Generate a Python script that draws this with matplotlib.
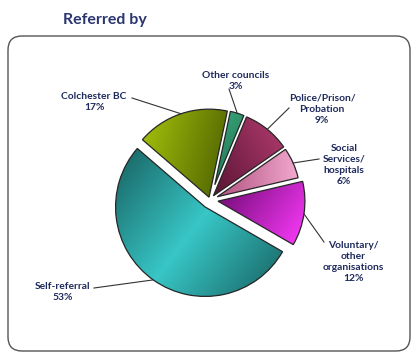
import numpy as np
import matplotlib
matplotlib.use('Agg')
import matplotlib.pyplot as plt
from matplotlib.patches import FancyBboxPatch
from matplotlib.colors import to_rgb

# referral sources, clockwise from the top
sources = ['Other councils', 'Police/Prison/\nProbation', 'Social\nServices/\nhospitals',
           'Voluntary/\nother\norganisations', 'Self-referral', 'Colchester BC']
shares = [3, 9, 6, 12, 53, 17]
pct_labels = ['3%', '9%', '6%', '12%', '53%', '17%']

# gradient fill per slice: dark end, light end, direction of the light side
dark_cols = ['#1c6a4e', '#5a1434', '#b0527f', '#6c0870', '#17605f', '#4c5f00']
light_cols = ['#3aa87c', '#b33c70', '#f2a8ce', '#ff3cff', '#38c6c6', '#a6c40c']
light_dir = [135, 30, 0, -35, -38, 165]
mirrored = [False, False, False, False, True, False]
pull_out = [0, 0, 0, 4, 7, 0]

# label centres and leader ends, in pixels from the top-left
label_pos = [(236, 81), (322, 109), (344, 165), (353, 262), (63, 292), (94, 102)]
leader_end = [(229, 89), (289, 108), (319, 159), (324, 242), (94, 288), (132, 98)]

W, H = 412, 353
cx, cy, R = 210, H - 200, 91
gap = 1.5
navy = '#1f2a5c'

fig = plt.figure(figsize=(W / 100, H / 100), dpi=100)
ax = fig.add_axes([0, 0, 1, 1])

wedges, _ = ax.pie(shares, startangle=78, counterclock=False, center=(cx, cy), radius=R,
                   wedgeprops=dict(edgecolor='#262626', linewidth=0.9))

for i, w in enumerate(wedges):
    mid = np.deg2rad((w.theta1 + w.theta2) / 2)
    half = np.deg2rad((w.theta2 - w.theta1) / 2)
    # pull each slice in from its neighbours so a white seam shows between them
    inset = gap / np.sin(half)
    shift = inset + pull_out[i]
    ox, oy = cx + shift * np.cos(mid), cy + shift * np.sin(mid)
    w.set_center((ox, oy))
    w.set_radius(R - inset)

    verts = w.get_path().vertices
    x0, y0 = verts.min(axis=0)
    x1, y1 = verts.max(axis=0)
    gx, gy = np.meshgrid(np.linspace(x0, x1, 160), np.linspace(y0, y1, 160))
    a = np.deg2rad(light_dir[i])
    p = gx * np.cos(a) + gy * np.sin(a)
    p = (p - p.min()) / (p.max() - p.min())
    if mirrored[i]:
        p = 1 - np.abs(2 * p - 1)
    c0, c1 = np.array(to_rgb(dark_cols[i])), np.array(to_rgb(light_cols[i]))
    img = c0 + (c1 - c0) * p[..., None]
    im = ax.imshow(img, extent=(x0, x1, y0, y1), origin='lower',
                   interpolation='bilinear', zorder=1)
    im.set_clip_path(w)
    w.set_facecolor('none')
    w.set_zorder(2)

    # leader from the rim at the slice middle to its label
    r = R - inset
    rx, ry = ox + r * np.cos(mid), oy + r * np.sin(mid)
    ex, ey = leader_end[i]
    ax.plot([rx, ex], [ry, H - ey], color='#333333', lw=0.8, zorder=3)
    lx, ly = label_pos[i]
    ax.text(lx, H - ly, f'{sources[i]}\n{pct_labels[i]}', ha='center', va='center',
            fontsize=7.4, fontweight='bold', family='Lato', color=navy,
            linespacing=1.3, zorder=4)

ax.text(105, H - 20, 'Referred by', ha='center', va='center', fontsize=11.5,
        fontweight='bold', family='Lato', color='#2b3570')

frame = FancyBboxPatch((8, H - 351), 402, 315, boxstyle='round,pad=0,rounding_size=14',
                       fc='none', ec='#555555', lw=1.0, zorder=0)
ax.add_patch(frame)

ax.set_xlim(0, W)
ax.set_ylim(0, H)
ax.set_aspect('auto')
ax.axis('off')

fig.savefig('out.png', dpi=100)
